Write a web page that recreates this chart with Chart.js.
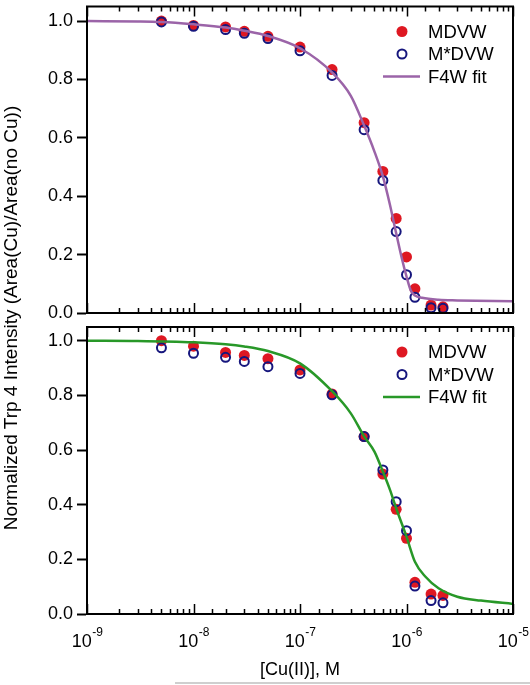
<!DOCTYPE html>
<html>
<head>
<meta charset="utf-8">
<script src="https://cdn.jsdelivr.net/npm/chart.js@4.4.1/dist/chart.umd.min.js"></script>
<style>
  body { margin: 0; background: #fff; width: 530px; height: 685px; position: relative; overflow: hidden;
         font-family: "Liberation Sans", Arial, sans-serif; }
  canvas { position: absolute; left: 0; }
  #topChart { top: 0; }
  #bottomChart { top: 320px; }
  #ytitle { position: absolute; left: -239px; top: 307px; width: 500px; height: 22px; line-height: 22px;
            text-align: center; white-space: nowrap; font-size: 19px; color: #000; transform: rotate(-90deg); }
  #scanline { position: absolute; left: 175px; top: 682px; width: 355px; height: 0; border-top: 2px solid #cfcfcf; }
</style>
</head>
<body>
<canvas id="topChart" width="530" height="320"></canvas>
<canvas id="bottomChart" width="530" height="365"></canvas>
<div id="ytitle">Normalized Trp 4 Intensity (Area(Cu)/Area(no Cu))</div>
<div id="scanline"></div>
<script>
// [Cu(II)] concentrations (M) of the titration points
const concM = [5e-9, 1e-8, 2e-8, 3e-8, 5e-8, 1e-7, 2e-7, 4e-7, 6e-7, 8e-7, 1e-6, 1.2e-6, 1.7e-6, 2.2e-6];

// top panel
const topMDVW     = [1.0, 0.985, 0.98, 0.965, 0.948, 0.911, 0.834, 0.652, 0.485, 0.324, 0.192, 0.083, 0.027, 0.021];
const topMStarDVW = [0.997, 0.982, 0.971, 0.958, 0.94, 0.898, 0.814, 0.628, 0.454, 0.279, 0.131, 0.054, 0.018, 0.016];
const topFitX = [1e-9, 3e-9, 5e-9, 1e-8, 2e-8, 3e-8, 5e-8, 1e-7, 2e-7, 3e-7, 4e-7, 5e-7, 6e-7, 7e-7, 8e-7, 9e-7, 1e-6, 1.1e-6, 1.2e-6, 1.4e-6, 2e-6, 3e-6, 1e-5];
const topFitY = [1.0, 0.999, 0.997, 0.989, 0.978, 0.967, 0.949, 0.907, 0.824, 0.744, 0.642, 0.553, 0.468, 0.37, 0.273, 0.19, 0.125, 0.076, 0.06, 0.052, 0.045, 0.043, 0.04];

// bottom panel
const botMDVW     = [1.0, 0.98, 0.957, 0.946, 0.934, 0.893, 0.805, 0.649, 0.512, 0.383, 0.277, 0.116, 0.073, 0.068];
const botMStarDVW = [0.974, 0.954, 0.939, 0.924, 0.905, 0.88, 0.802, 0.649, 0.527, 0.411, 0.305, 0.102, 0.049, 0.041];
const botFitX = [1e-9, 3e-9, 1e-8, 2e-8, 3e-8, 5e-8, 1e-7, 2e-7, 3e-7, 4e-7, 5e-7, 6e-7, 7e-7, 8e-7, 1e-6, 1.2e-6, 1.5e-6, 2e-6, 3e-6, 5e-6, 1e-5];
const botFitY = [1.0, 0.999, 0.994, 0.987, 0.979, 0.962, 0.917, 0.815, 0.734, 0.65, 0.594, 0.521, 0.454, 0.387, 0.283, 0.191, 0.137, 0.094, 0.063, 0.049, 0.037];

const seriesLabels = ['MDVW', 'M*DVW', 'F4W fit'];
const yTicks = [0, 0.2, 0.4, 0.6, 0.8, 1.0];
const xTickValues = [1e-9, 1e-8, 1e-7, 1e-6, 1e-5];
const xTickExponents = ['-9', '-8', '-7', '-6', '-5'];

const FONT = '"Liberation Sans", Arial, sans-serif';
Chart.defaults.font.family = FONT;
Chart.defaults.font.size = 18;
Chart.defaults.color = '#000';

function pairs(xs, ys) {
  return xs.map((x, i) => ({ x: x, y: ys[i] }));
}

// frame box plus inward log ticks on top and bottom edges
const framePlugin = {
  id: 'frame',
  afterDatasetsDraw(chart) {
    const ctx = chart.ctx, a = chart.chartArea, xs = chart.scales.x;
    ctx.save();
    ctx.strokeStyle = '#000';
    ctx.lineWidth = 2;
    ctx.strokeRect(a.left, a.top, a.right - a.left, a.bottom - a.top);
    ctx.lineWidth = 1.5;
    ctx.beginPath();
    xs.ticks.forEach(t => {
      const px = Math.round(xs.getPixelForValue(t.value)) + 0.5;
      const lg = Math.log10(t.value);
      const len = Math.abs(lg - Math.round(lg)) < 1e-6 ? 10 : 5;
      ctx.moveTo(px, a.bottom); ctx.lineTo(px, a.bottom - len);
      ctx.moveTo(px, a.top); ctx.lineTo(px, a.top + len);
    });
    ctx.stroke();
    ctx.restore();
  }
};

// legend inside the plot, top right
const legendPlugin = {
  id: 'innerLegend',
  afterDraw(chart) {
    const ctx = chart.ctx, a = chart.chartArea;
    ctx.save();
    ctx.font = '18.5px ' + FONT;
    ctx.textBaseline = 'middle';
    chart.data.datasets.forEach((ds, i) => {
      const y = a.top + 25 + i * 22.5;
      if (ds.showLine) {
        ctx.strokeStyle = ds.borderColor;
        ctx.lineWidth = ds.borderWidth;
        ctx.beginPath();
        ctx.moveTo(a.right - 130, y); ctx.lineTo(a.right - 93, y);
        ctx.stroke();
      } else {
        ctx.beginPath();
        ctx.arc(a.right - 111, y, ds.pointRadius, 0, Math.PI * 2);
        if (ds.pointBorderWidth === 0) {
          ctx.fillStyle = ds.pointBackgroundColor;
          ctx.fill();
        } else {
          ctx.strokeStyle = ds.pointBorderColor;
          ctx.lineWidth = ds.pointBorderWidth;
          ctx.stroke();
        }
      }
      ctx.fillStyle = '#000';
      ctx.fillText(ds.label, a.right - 85, y + 1);
    });
    ctx.restore();
  }
};

// 10^n labels under the bottom panel
const expLabelPlugin = {
  id: 'expLabels',
  afterDraw(chart) {
    const ctx = chart.ctx, a = chart.chartArea, xs = chart.scales.x;
    ctx.save();
    ctx.fillStyle = '#000';
    ctx.textBaseline = 'alphabetic';
    xTickValues.forEach((v, i) => {
      ctx.font = '18px ' + FONT;
      const wBase = ctx.measureText('10').width;
      ctx.font = '12px ' + FONT;
      const wExp = ctx.measureText(xTickExponents[i]).width;
      const x0 = xs.getPixelForValue(v) - (wBase + wExp) / 2;
      ctx.font = '18px ' + FONT;
      ctx.fillText('10', x0, a.bottom + 33);
      ctx.font = '12px ' + FONT;
      ctx.fillText(xTickExponents[i], x0 + wBase + 0.5, a.bottom + 22);
    });
    ctx.restore();
  }
};

function makePanel(canvasId, mdvw, mstar, fitX, fitY, fitColor, bottom) {
  return new Chart(document.getElementById(canvasId), {
    type: 'scatter',
    data: {
      datasets: [
        { label: seriesLabels[0], data: pairs(concM, mdvw), order: 2,
          pointRadius: 5.5, pointBorderWidth: 0, pointBackgroundColor: 'rgb(222,24,34)',
          pointBorderColor: 'rgb(222,24,34)', pointHoverRadius: 5.5 },
        { label: seriesLabels[1], data: pairs(concM, mstar), order: 1,
          pointRadius: 4.5, pointBorderWidth: 2, pointBackgroundColor: 'rgba(0,0,0,0)',
          pointBorderColor: 'rgb(22,22,125)', pointHoverRadius: 4.5 },
        { label: seriesLabels[2], data: pairs(fitX, fitY), order: 0, showLine: true,
          pointRadius: 0, borderColor: fitColor, borderWidth: 2.5,
          cubicInterpolationMode: 'monotone', fill: false }
      ]
    },
    options: {
      responsive: false,
      animation: false,
      devicePixelRatio: 1,
      layout: { padding: { left: 0, right: 17, top: bottom ? 7 : 1, bottom: bottom ? 0 : 7 } },
      plugins: { legend: { display: false }, tooltip: { enabled: false } },
      scales: {
        x: {
          type: 'logarithmic', min: 1e-9, max: 1e-5,
          ticks: { display: false },
          grid: { display: false },
          border: { display: false },
          title: { display: bottom, text: '[Cu(II)], M', color: '#000',
                   font: { size: 18 }, padding: { top: 0, bottom: 4 } },
          afterFit: s => { s.height = bottom ? 71 : 0; s.paddingLeft = 0; s.paddingRight = 0; }
        },
        y: {
          min: 0, max: 1.05,
          afterBuildTicks: s => { s.ticks = yTicks.map(v => ({ value: v })); },
          afterFit: s => { s.width = 87; s.paddingTop = 0; s.paddingBottom = 0; },
          ticks: { color: '#000', font: { size: 18 }, padding: 4, callback: v => v.toFixed(1) },
          grid: { drawOnChartArea: false, drawTicks: true, tickLength: 10, tickColor: '#000', tickWidth: 2 },
          border: { display: true, color: '#000', width: 2 }
        }
      }
    },
    plugins: bottom ? [framePlugin, legendPlugin, expLabelPlugin] : [framePlugin, legendPlugin]
  });
}

makePanel('topChart', topMDVW, topMStarDVW, topFitX, topFitY, 'rgb(155,100,168)', false);
makePanel('bottomChart', botMDVW, botMStarDVW, botFitX, botFitY, 'rgb(40,152,40)', true);
</script>
</body>
</html>
